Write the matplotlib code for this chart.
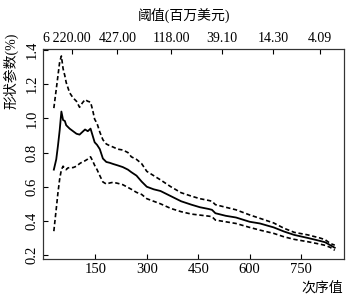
import matplotlib
matplotlib.use('Agg')
import matplotlib.pyplot as plt
import matplotlib.transforms as mtransforms

plt.rcParams['font.family'] = ['Liberation Serif', 'DejaVu Serif', 'Noto Sans CJK SC']
plt.rcParams['font.size'] = 10

# order statistic (x) and shape parameter estimate with bounds (%)
order = [29, 36, 41, 46, 51, 56, 61, 65, 70, 75, 85, 95, 104, 112, 120, 128,
         136, 142, 148, 155, 163, 172, 182, 192, 202, 215, 230, 245, 255, 270,
         285, 300, 320, 340, 370, 400, 430, 455, 480, 490, 500, 530, 560, 600,
         630, 670, 700, 730, 770, 805, 820, 835, 848]
shape = [0.70, 0.76, 0.84, 0.93, 1.04, 0.99, 0.985, 0.96, 0.95, 0.94, 0.925,
         0.91, 0.905, 0.92, 0.935, 0.925, 0.94, 0.90, 0.86, 0.845, 0.82,
         0.765, 0.745, 0.74, 0.733, 0.725, 0.715, 0.70, 0.685, 0.665, 0.63,
         0.60, 0.585, 0.575, 0.545, 0.515, 0.495, 0.48, 0.47, 0.465, 0.445,
         0.43, 0.42, 0.395, 0.385, 0.362, 0.338, 0.318, 0.30, 0.283, 0.275,
         0.258, 0.243]
upper = [1.06, 1.17, 1.25, 1.33, 1.365, 1.29, 1.25, 1.21, 1.18, 1.15, 1.12,
         1.10, 1.065, 1.09, 1.11, 1.10, 1.095, 1.05, 0.995, 0.97, 0.92,
         0.875, 0.85, 0.84, 0.832, 0.82, 0.815, 0.80, 0.775, 0.76, 0.735,
         0.69, 0.665, 0.64, 0.60, 0.565, 0.545, 0.53, 0.52, 0.515, 0.495,
         0.48, 0.465, 0.435, 0.415, 0.388, 0.357, 0.333, 0.318, 0.30, 0.29,
         0.268, 0.258]
lower = [0.34, 0.47, 0.565, 0.645, 0.70, 0.72, 0.705, 0.70, 0.71, 0.712,
         0.712, 0.72, 0.735, 0.745, 0.752, 0.762, 0.775, 0.752, 0.725, 0.70,
         0.665, 0.628, 0.616, 0.622, 0.626, 0.62, 0.612, 0.596, 0.585, 0.567,
         0.555, 0.53, 0.515, 0.50, 0.473, 0.454, 0.44, 0.434, 0.428, 0.425,
         0.405, 0.395, 0.385, 0.362, 0.346, 0.327, 0.307, 0.292, 0.278,
         0.264, 0.257, 0.245, 0.228]

# threshold axis on top
thr_pos = [81, 214, 371, 520, 668, 805]
thr_labels = ['6\u2009220.00', '427.00', '118.00', '39.10', '14.30', '4.09']
bottom_ticks = [150, 300, 450, 600, 750]
left_ticks = [0.2, 0.4, 0.6, 0.8, 1.0, 1.2, 1.4]

fig = plt.figure(figsize=(3.54, 3.0), dpi=100)
ax = fig.add_axes([0.1206, 0.1383, 0.8512, 0.6984])

ax.plot(order, shape, color='black', lw=1.3)
ax.plot(order, upper, color='black', lw=1.2, ls=(0, (2.6, 1.6)))
ax.plot(order, lower, color='black', lw=1.2, ls=(0, (2.6, 1.6)))

ax.set_xlim(-3.5, 875)
ax.set_ylim(0.18, 1.406)
ax.set_xticks(bottom_ticks)
ax.set_yticks(left_ticks)
ax.set_yticklabels(['%.1f' % v for v in left_ticks], rotation=90, va='center')
ax.tick_params(direction='in', length=3.5, width=0.8, pad=3, labelsize=10.5)

top = ax.twiny()
top.set_xlim(ax.get_xlim())
top.set_xticks(thr_pos)
top.set_xticklabels(thr_labels)
top.tick_params(direction='in', length=3.5, width=0.8, pad=3, labelsize=10)
# first label sits a little left of its tick in the reference
shift = mtransforms.ScaledTranslation(-5 / 100, 0, fig.dpi_scale_trans)
lab0 = top.get_xticklabels()[0]
lab0.set_transform(lab0.get_transform() + shift)

for a in (ax, top):
    for s in a.spines.values():
        s.set_linewidth(0.8)
        s.set_color('#333333')

fig.text(0.52, 0.95, '阈值(百万美元)', ha='center', va='center', fontsize=10)
fig.text(0.03, 0.765, '形状参数(%)', ha='center', va='center', rotation=90, fontsize=10)
fig.text(0.97, 0.04, '次序值', ha='right', va='center', fontsize=10)

fig.savefig('out.png', dpi=100)
